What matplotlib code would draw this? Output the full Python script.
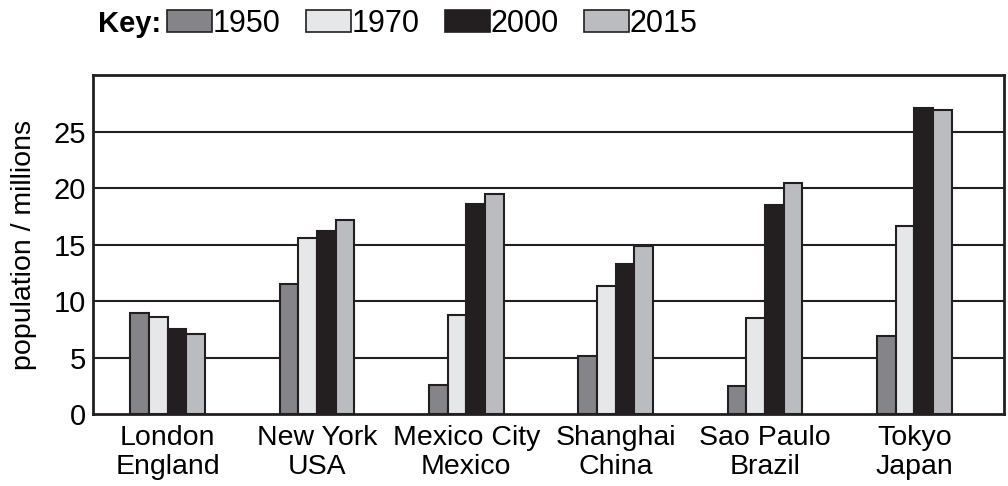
import numpy as np
import matplotlib.pyplot as plt
from matplotlib.patches import Patch

plt.rcParams['font.family'] = ['Liberation Sans', 'DejaVu Sans']

cities = ['London\nEngland', 'New York\nUSA', 'Mexico City\nMexico',
          'Shanghai\nChina', 'Sao Paulo\nBrazil', 'Tokyo\nJapan']
years = ['1950', '1970', '2000', '2015']
pop_1950 = [8.9, 11.5, 2.6, 5.1, 2.5, 6.9]
pop_1970 = [8.6, 15.6, 8.8, 11.3, 8.5, 16.6]
pop_2000 = [7.5, 16.2, 18.6, 13.3, 18.5, 27.1]
pop_2015 = [7.1, 17.2, 19.5, 14.9, 20.4, 26.9]
series = [pop_1950, pop_1970, pop_2000, pop_2015]
colors = ['#858589', '#e6e7e8', '#231f20', '#bbbcbf']
dark = '#231f20'

fig = plt.figure(figsize=(10.08, 4.86), dpi=100)
ax = fig.add_axes([0.0923, 0.148, 0.9037, 0.6977])

x = np.arange(len(cities))
w = 0.125
for i, vals in enumerate(series):
    ax.bar(x + (i - 1.5) * w, vals, width=w, color=colors[i],
           edgecolor=dark, linewidth=1.5, zorder=3)

for yv in range(5, 30, 5):
    ax.axhline(yv, color=dark, linewidth=1.5, zorder=1)

ax.set_xlim(-0.5, 5.6)
ax.set_ylim(0, 30)
ax.set_yticks(range(0, 30, 5))
ax.set_xticks(x)
ax.set_xticklabels(cities, fontsize=20.5, linespacing=1.15)
ax.tick_params(axis='y', length=0, pad=5, labelsize=21)
ax.tick_params(axis='x', length=0, pad=8)
for s in ax.spines.values():
    s.set_linewidth(2)
    s.set_color(dark)
ax.set_ylabel('population / millions', fontsize=20.5, labelpad=12)

fig.text(0.097, 0.951, 'Key:', fontsize=21, fontweight='bold', va='center', ha='left')
handles = [Patch(facecolor=c, edgecolor=dark, linewidth=1.2) for c in colors]
fig.legend(handles, years, loc='center left', bbox_to_anchor=(0.1657, 0.951),
           ncol=4, frameon=False, fontsize=22, handlelength=1.47,
           handleheight=0.75, handletextpad=0.03, columnspacing=0.82,
           borderpad=0, borderaxespad=0)

fig.savefig('out.png', dpi=100)
